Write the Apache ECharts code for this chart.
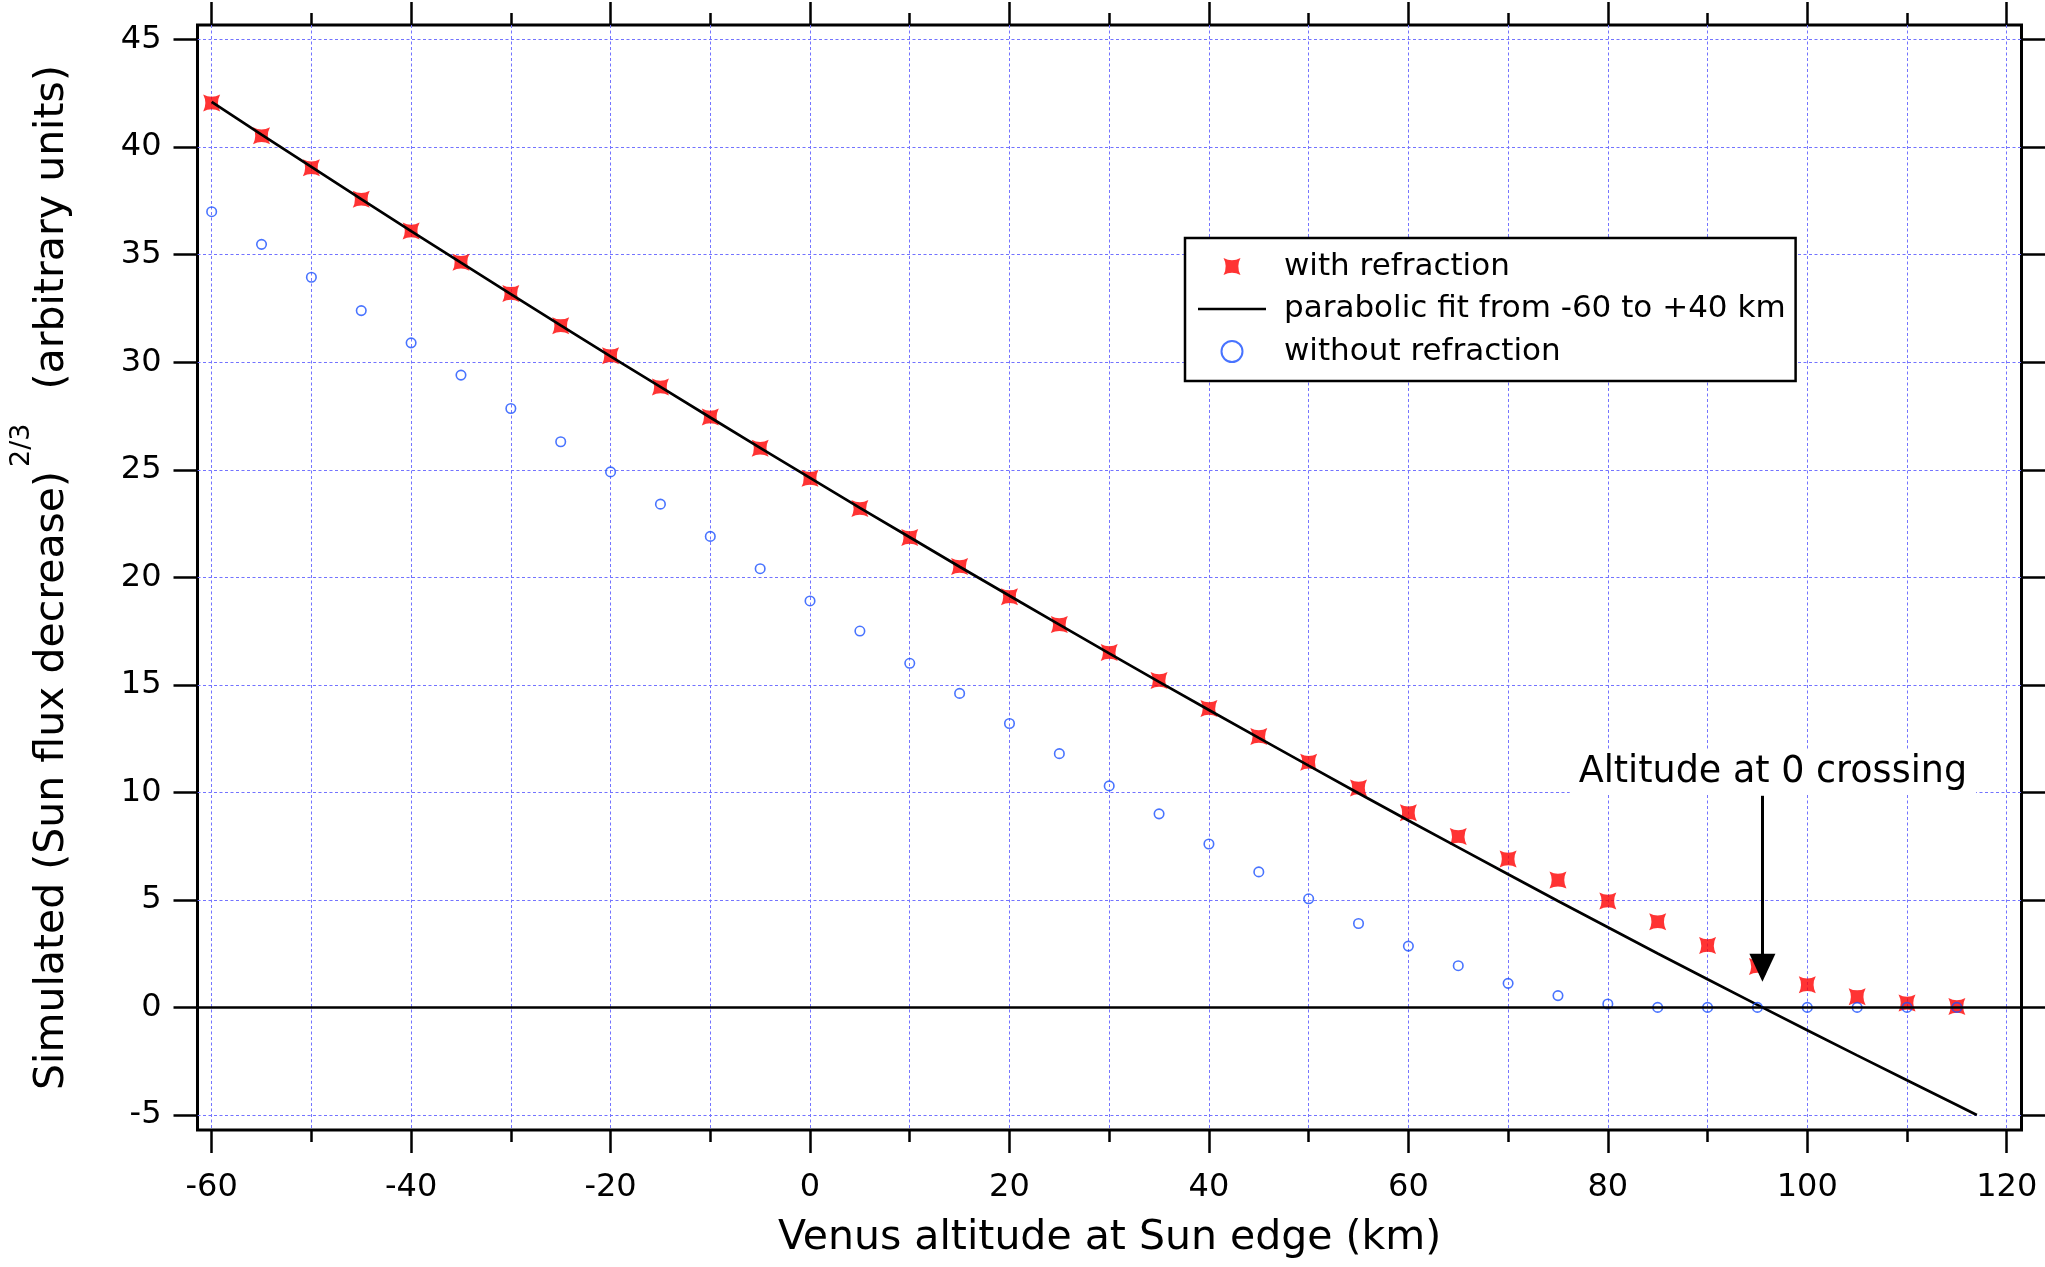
<!DOCTYPE html>
<html><head><meta charset="utf-8">
<script src="https://cdn.jsdelivr.net/npm/echarts@6/dist/echarts.min.js"></script>
<style>html,body{margin:0;padding:0;background:#fff}#c{width:2045px;height:1267px}</style>
</head><body><div id="c"></div>
<script>
// ---- data ----
const altitudeKm = [-60,-55,-50,-45,-40,-35,-30,-25,-20,-15,-10,-5,0,5,10,15,20,25,30,35,40,45,50,55,60,65,70,75,80,85,90,95,100,105,110,115];
const withRefraction = [42.05,40.53,39.04,37.58,36.1,34.65,33.2,31.7,30.3,28.85,27.45,26.0,24.6,23.2,21.85,20.5,19.1,17.8,16.5,15.2,13.9,12.6,11.4,10.2,9.05,7.95,6.9,5.92,4.95,3.98,2.88,1.9,1.05,0.5,0.2,0.04];
const withoutRefraction = [37.0,35.48,33.95,32.4,30.9,29.4,27.85,26.3,24.9,23.4,21.9,20.4,18.9,17.5,16.0,14.6,13.2,11.8,10.3,9.0,7.6,6.3,5.05,3.9,2.85,1.94,1.12,0.55,0.16,0,0,0,0,0,0,0];
const fitAltitudeKm = [-60,-55,-50,-45,-40,-35,-30,-25,-20,-15,-10,-5,0,5,10,15,20,25,30,35,40,45,50,55,60,65,70,75,80,85,90,95,100,105,110,115,117];
const fitValues = [42.10,40.58,39.08,37.58,36.10,34.63,33.17,31.71,30.27,28.85,27.43,26.02,24.62,23.23,21.86,20.49,19.14,17.80,16.46,15.14,13.83,12.53,11.24,9.96,8.69,7.44,6.19,4.95,3.73,2.51,1.31,0.12,-1.06,-2.23,-3.39,-4.54,-5.00];
const xMinorTicks = [-60,-50,-40,-30,-20,-10,0,10,20,30,40,50,60,70,80,90,100,110,120];
const xMajorTicks = [-60,-40,-20,0,20,40,60,80,100,120];
const yTicks = [-5,0,5,10,15,20,25,30,35,40,45];
const xRange = [-61.42, 121.48];
const yRange = [-5.70, 45.68];
const arrowAltitude = 95.5, arrowFrom = 9.84, arrowTo = 1.85;
const noteAltitude = 96.55, noteValue = 10.93;
const noteText = 'Altitude at 0 crossing';
const names = ['with refraction', 'parabolic fit from -60 to +40 km', 'without refraction'];

const FONT = 'DejaVu Sans';
const STAR = 'path://M0,0Q5,2.6 10,0Q7.4,5 10,10Q5,7.4 0,10Q2.6,5 0,0Z';
const STAR_LEGEND = 'path://M-1.2,-1.2M11.2,11.2M0,0Q5,2.6 10,0Q7.4,5 10,10Q5,7.4 0,10Q2.6,5 0,0Z';
const LINE_LEGEND = 'path://M0,0H68V2.7H0Z';
const GRIDLINE = {show: true, lineStyle: {color: '#7373ff', type: [3, 2.5], width: 1}};
const TICKSTYLE = {color: '#000', width: 2.5};

function xAxisDef(pos, ticks, len, extra) {
  return Object.assign({
    type: 'value', position: pos, min: xRange[0], max: xRange[1], gridIndex: 0,
    axisLine: {show: false, onZero: false},
    axisTick: {show: true, customValues: ticks, length: len, lineStyle: TICKSTYLE},
    axisLabel: {show: false},
    splitLine: {show: false}
  }, extra || {});
}
function yAxisDef(pos, len, extra) {
  return Object.assign({
    type: 'value', position: pos, min: yRange[0], max: yRange[1], gridIndex: 0,
    axisLine: {show: false, onZero: false},
    axisTick: {show: true, customValues: yTicks, length: len, lineStyle: TICKSTYLE},
    axisLabel: {show: false},
    splitLine: {show: false}
  }, extra || {});
}

const chart = echarts.init(document.getElementById('c'), null, {renderer: 'canvas'});
chart.setOption({
  animation: false,
  backgroundColor: '#fff',
  textStyle: {fontFamily: FONT},
  grid: {left: 197.5, right: 23.5, top: 25, bottom: 137, show: true, borderColor: '#000', borderWidth: 3,
         backgroundColor: 'transparent', containLabel: false, outerBoundsMode: 'none'},
  xAxis: [
    xAxisDef('bottom', xMinorTicks, 12, {splitLine: GRIDLINE}),
    xAxisDef('bottom', xMajorTicks, 23, {
      axisLabel: {show: true, customValues: xMajorTicks, margin: 42, fontSize: 32, lineHeight: 32, color: '#000', fontFamily: FONT},
      name: 'Venus altitude at Sun edge (km)', nameLocation: 'middle', nameGap: 88,
      nameTextStyle: {fontSize: 41, lineHeight: 41, color: '#000', fontFamily: FONT}
    }),
    xAxisDef('top', xMinorTicks, 12),
    xAxisDef('top', xMajorTicks, 23)
  ],
  yAxis: [
    yAxisDef('left', 24, {
      splitLine: GRIDLINE,
      axisLabel: {show: true, customValues: yTicks, margin: 36, fontSize: 32, lineHeight: 32, color: '#000', fontFamily: FONT},
      name: '{m|Simulated (Sun flux decrease)}{s|2/3}{a|(arbitrary units)}',
      nameLocation: 'middle', nameRotate: 90, nameGap: 125,
      nameTextStyle: {
        color: '#000', fontFamily: FONT,
        rich: {
          m: {fontSize: 41, lineHeight: 41, verticalAlign: 'bottom', color: '#000', fontFamily: FONT},
          s: {fontSize: 27, lineHeight: 64, verticalAlign: 'top', padding: [0, 0, 0, 4], color: '#000', fontFamily: FONT},
          a: {fontSize: 41, lineHeight: 41, verticalAlign: 'bottom', padding: [0, 0, 0, 34], color: '#000', fontFamily: FONT}
        }
      }
    }),
    yAxisDef('right', 23.5)
  ],
  legend: {
    left: 1185, top: 238, orient: 'vertical',
    itemWidth: 68, itemHeight: 21, itemGap: 11.5,
    padding: [13, 10, 14, 13],
    borderColor: '#000', borderWidth: 2.5, backgroundColor: '#fff',
    selectedMode: false,
    textStyle: {fontSize: 31, lineHeight: 31, color: '#000', fontFamily: FONT, padding: [0, 0, 0, 13]},
    data: [{name: names[0], icon: STAR_LEGEND}, {name: names[1], icon: LINE_LEGEND}, {name: names[2], icon: 'circle'}]
  },
  series: [
    {
      name: names[0], type: 'scatter', xAxisIndex: 0, yAxisIndex: 0, z: 2,
      data: altitudeKm.map((x, i) => [x, withRefraction[i]]),
      symbol: STAR, symbolSize: 17,
      itemStyle: {color: '#ff0000'},
      emphasis: {disabled: true}
    },
    {
      name: names[1], type: 'line', xAxisIndex: 0, yAxisIndex: 0, z: 3,
      data: fitAltitudeKm.map((x, i) => [x, fitValues[i]]),
      symbol: 'none', showSymbol: false,
      lineStyle: {color: '#000', width: 2.7},
      itemStyle: {color: '#000'},
      emphasis: {disabled: true},
      markLine: {
        silent: true, animation: false, symbol: ['none', 'none'],
        lineStyle: {color: '#000', width: 2.5, type: 'solid'},
        label: {show: false},
        data: [{yAxis: 0}]
      },
      markPoint: {
        silent: true, animation: false,
        symbol: 'circle', symbolSize: 1, itemStyle: {color: 'rgba(0,0,0,0)'},
        label: {show: true, position: 'inside', formatter: noteText, fontSize: 36.5, lineHeight: 36,
                color: '#000', fontFamily: FONT, backgroundColor: '#fff', padding: [3, 9, 6, 9]},
        data: [{coord: [noteAltitude, noteValue]}]
      }
    },
    {
      name: names[2], type: 'scatter', xAxisIndex: 0, yAxisIndex: 0, z: 4,
      data: altitudeKm.map((x, i) => [x, withoutRefraction[i]]),
      symbol: 'circle', symbolSize: 9.5,
      itemStyle: {color: 'rgba(0,0,0,0)', borderColor: '#1a50ff', borderWidth: 1.6},
      emphasis: {disabled: true},
      markLine: {
        silent: true, animation: false,
        symbol: ['none', 'triangle'], symbolSize: [26, 28],
        lineStyle: {color: '#000', width: 3, type: 'solid'},
        label: {show: false},
        data: [[{coord: [arrowAltitude, arrowFrom]}, {coord: [arrowAltitude, arrowTo]}]]
      }
    }
  ]
});
</script></body></html>
